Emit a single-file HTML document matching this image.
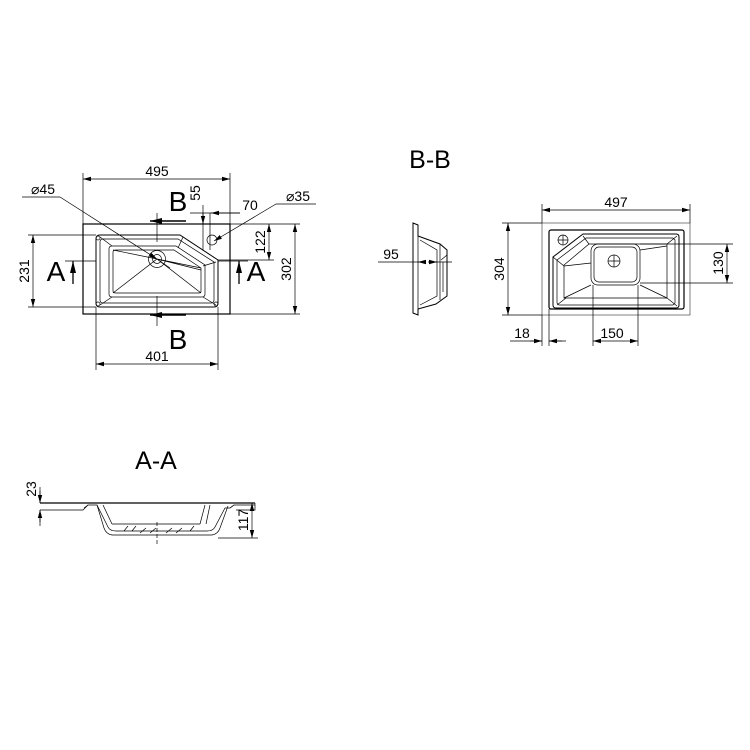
<!DOCTYPE html>
<html><head><style>
html,body{margin:0;padding:0;background:#fff;}
svg{display:block;font-family:"Liberation Sans",sans-serif;}
</style></head><body>
<svg width="750" height="750" viewBox="0 0 750 750" xmlns="http://www.w3.org/2000/svg">
<defs>
<marker id="a" markerWidth="8" markerHeight="6" refX="8" refY="3" orient="auto-start-reverse" markerUnits="userSpaceOnUse"><path d="M0,0.8 L8,3 L0,5.2z" fill="#000"/></marker>
<marker id="b" markerWidth="12" markerHeight="8" refX="12" refY="4" orient="auto" markerUnits="userSpaceOnUse"><path d="M0,1 L12,4 L0,7z" fill="#000"/></marker>
</defs>
<g fill="none" stroke="#000" stroke-width="0.7">
<rect x="83" y="224" width="147" height="90" stroke-width="1.2"/>
<path d="M100,235 H180 L218,260 V303 Q218,307 214,307 H100 Q96,307 96,303 V239 Q96,235 100,235Z" stroke-width="1"/>
<path d="M103,239 H178 L214,262 V300 Q214,303 211,303 H103 Q100,303 100,300 V242 Q100,239 103,239Z"/>
<path d="M112,246 H176 L205,265 V294 Q205,297 202,297 H112 Q109,297 109,294 V249 Q109,246 112,246Z"/>
<path d="M116,250 H174 L201,268 V291 Q201,293 199,293 H116 Q113,293 113,291 V252 Q113,250 116,250Z"/>
<circle cx="98" cy="238" r="2"/><circle cx="98" cy="304" r="2"/><circle cx="216" cy="304" r="2"/>
<path d="M100,237 L112,246 M100,305 L112,297 M216,305 L203,297 M216,262 L203,266 M183,237 L178,248"/>
<path d="M113,250 L157,259 L201,268 M113,293 L157,259 L201,293 M157,259 L201,270"/>
<circle cx="157" cy="259" r="8.5"/><circle cx="157" cy="259" r="4.5"/>
<circle cx="212" cy="240" r="5"/>
<path d="M157,213 V242 M157,296 V326 M65,261 H96 M218,261 H248"/>
<line x1="186" y1="221" x2="150" y2="221" marker-end="url(#b)" stroke-width="1.5"/>
<line x1="186" y1="315" x2="150" y2="315" marker-end="url(#b)" stroke-width="1.5"/>
<line x1="73" y1="284" x2="73" y2="261" marker-end="url(#b)" stroke-width="1.3"/>
<line x1="239" y1="284" x2="239" y2="261" marker-end="url(#b)" stroke-width="1.3"/>
<path d="M83,224 V173 M230,224 V173"/>
<line x1="83" y1="179" x2="230" y2="179" marker-start="url(#a)" marker-end="url(#a)"/>
<path d="M96,307 V370 M218,307 V370"/>
<line x1="96" y1="364" x2="218" y2="364" marker-start="url(#a)" marker-end="url(#a)"/>
<path d="M96,235 H28 M96,307 H28"/>
<line x1="33" y1="235" x2="33" y2="307" marker-start="url(#a)" marker-end="url(#a)"/>
<path d="M230,224 H300 M230,314 H300"/>
<line x1="295" y1="224" x2="295" y2="314" marker-start="url(#a)" marker-end="url(#a)"/>
<path d="M218,260 H274"/>
<line x1="269" y1="224" x2="269" y2="260" marker-start="url(#a)" marker-end="url(#a)"/>
<path d="M203,205 V250 M210,213 V250 M190,213 H240"/>
<line x1="203" y1="213" x2="203" y2="224" marker-end="url(#a)"/>
<line x1="240" y1="213" x2="211" y2="213" marker-end="url(#a)"/>
<path d="M276,204 H316"/>
<line x1="276" y1="204" x2="214" y2="241" marker-end="url(#a)"/>
<path d="M22,197 H60"/>
<line x1="60" y1="197" x2="157" y2="259" marker-end="url(#a)"/>
<line x1="170" y1="268" x2="157" y2="259"/>

<path d="M413,223 L418,225 V236 L440,244 L447,250 V296 L436,304 L418,309 V315 L413,313Z" stroke-width="1"/>
<path d="M418,236 V309 M420,240 L437,250 V296 L420,305 M440,244 V300 M443,262 V292 M447,255 L441,260"/>
<path d="M378,262 H423 M432,262 H452"/>
<line x1="425" y1="262" x2="418" y2="262" marker-end="url(#a)"/>
<line x1="428" y1="262" x2="437" y2="262" marker-end="url(#a)"/>

<rect x="542" y="223" width="148" height="92" stroke-width="0.5"/>
<rect x="549" y="230" width="135" height="79" rx="2" stroke-width="1.2"/>
<path d="M583,234 H676 Q679,234 679,237 V305 Q679,308 676,308 H556 Q553,308 553,305 V257Z" stroke-width="1"/>
<path d="M586,238 H673 L675,240 V303 L673,305 H559 L557,303 V260Z"/>
<path d="M589,244 H667 V298 H564 V265Z"/>
<rect x="591" y="244" width="49" height="41" rx="7"/>
<rect x="594" y="247" width="43" height="35" rx="5"/>
<path d="M553,257 L564,266 M557,305 L566,298 M677,306 L667,298 M677,236 L667,244 M583,236 L589,244 M564,266 L591,263 M564,298 L591,285 M667,298 L640,285 M667,246 L640,250"/>
<circle cx="614" cy="261" r="6"/><path d="M608,261 H620 M614,255 V267"/>
<circle cx="563" cy="240" r="5"/><path d="M558,240 H568 M563,235 V245"/>
<path d="M542,223 V204 M690,223 V204"/>
<line x1="542" y1="210" x2="690" y2="210" marker-start="url(#a)" marker-end="url(#a)"/>
<path d="M542,223 H502 M542,315 H502"/>
<line x1="508" y1="223" x2="508" y2="315" marker-start="url(#a)" marker-end="url(#a)"/>
<path d="M640,244 H733 M640,283 H733"/>
<line x1="727" y1="244" x2="727" y2="283" marker-start="url(#a)" marker-end="url(#a)"/>
<path d="M542,315 V346 M549,309 V346 M593,285 V346 M638,285 V346 M510,341 H542 M549,341 H566"/>
<line x1="530" y1="341" x2="542" y2="341" marker-end="url(#a)"/>
<line x1="562" y1="341" x2="549" y2="341" marker-end="url(#a)"/>
<line x1="593" y1="341" x2="638" y2="341" marker-start="url(#a)" marker-end="url(#a)"/>

<path d="M40,503 H255" stroke-width="1.2"/>
<path d="M40,510 H83 L88,505 H97 L108,527 Q110,531 116,531 H207 Q213,531 215,527 L225,508 H230 L234,505 H255 M255,503 V510 H236"/>
<path d="M97,505 L104,528 Q106,534 112,535 H212 Q218,534 220,528 L228,506"/>
<path d="M103,505 L112,524 M205,505 L200,524 M210,505 L206,524 M112,524 H200 M124,531 L128,526 M132,531 L136,526 M140,533 L146,528 M150,533 L156,528 M166,533 L172,528 M176,533 L182,528 M190,531 L194,526 M84,508 L88,505 M230,508 L234,505"/>
<path d="M157,522 V546" stroke-dasharray="4,2"/>
<path d="M40,503 V487 M40,510 V526"/>
<line x1="40" y1="491" x2="40" y2="503" marker-end="url(#a)"/>
<line x1="40" y1="522" x2="40" y2="510" marker-end="url(#a)"/>
<path d="M218,538 H258"/>
<line x1="252" y1="503" x2="252" y2="538" marker-start="url(#a)" marker-end="url(#a)"/>
</g>
<g fill="#000" font-size="14" text-anchor="middle">
<text x="157" y="176">495</text>
<text x="157" y="361">401</text>
<text x="29" y="271" transform="rotate(-90 29 271)">231</text>
<text x="291" y="269" transform="rotate(-90 291 269)">302</text>
<text x="265" y="242" transform="rotate(-90 265 242)">122</text>
<text x="200" y="193" transform="rotate(-90 200 193)">55</text>
<text x="250" y="210">70</text>
<text x="298" y="201">⌀35</text>
<text x="43" y="194">⌀45</text>
<text x="391" y="259">95</text>
<text x="616" y="207">497</text>
<text x="504" y="269" transform="rotate(-90 504 269)">304</text>
<text x="723" y="263" transform="rotate(-90 723 263)">130</text>
<text x="522" y="338">18</text>
<text x="612" y="338">150</text>
<text x="36" y="489" transform="rotate(-90 36 489)">23</text>
<text x="248" y="520" transform="rotate(-90 248 520)">117</text>
<g font-size="28">
<text x="178" y="211">B</text>
<text x="178" y="349">B</text>
<text x="56" y="281">A</text>
<text x="256" y="281">A</text>
<text x="430" y="168" font-size="25">B-B</text>
<text x="156" y="469" font-size="25">A-A</text>
</g>
</g>
</svg>
</body></html>
